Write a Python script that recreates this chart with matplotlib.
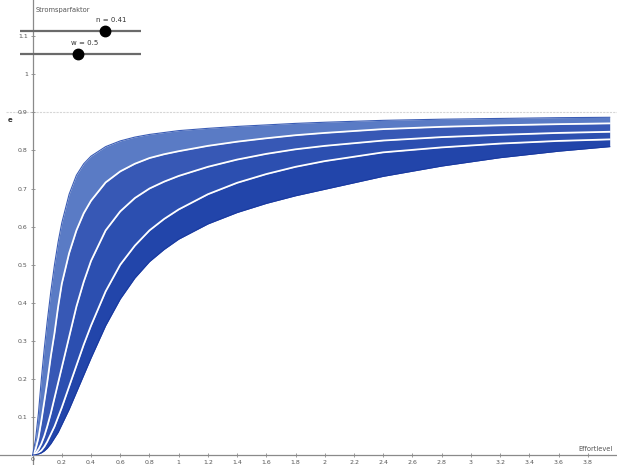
import matplotlib.pyplot as plt
import numpy as np

# effort level (x) and the five edge curves of the curve family
effort = [0, 0.02, 0.04, 0.06, 0.08, 0.1, 0.125, 0.15, 0.175, 0.2, 0.25, 0.3,
          0.35, 0.4, 0.5, 0.6, 0.7, 0.8, 0.9, 1.0, 1.2, 1.4, 1.6, 1.8, 2.0,
          2.4, 2.8, 3.2, 3.6, 3.95]
top = [0, 0.04, 0.11, 0.2, 0.28, 0.35, 0.43, 0.5, 0.56, 0.61, 0.685, 0.735,
       0.765, 0.785, 0.81, 0.825, 0.835, 0.842, 0.847, 0.852, 0.858, 0.863,
       0.867, 0.871, 0.874, 0.879, 0.882, 0.884, 0.886, 0.887]
gap1 = [0, 0.015, 0.045, 0.09, 0.14, 0.19, 0.26, 0.32, 0.39, 0.45, 0.53, 0.59,
        0.635, 0.668, 0.716, 0.745, 0.765, 0.78, 0.79, 0.798, 0.812, 0.823,
        0.832, 0.84, 0.846, 0.856, 0.862, 0.866, 0.869, 0.871]
gap2 = [0, 0.005, 0.015, 0.03, 0.05, 0.075, 0.11, 0.15, 0.19, 0.23, 0.31, 0.39,
        0.455, 0.51, 0.59, 0.64, 0.675, 0.7, 0.718, 0.733, 0.757, 0.776,
        0.791, 0.803, 0.812, 0.826, 0.835, 0.841, 0.846, 0.849]
gap3 = [0, 0.002, 0.006, 0.012, 0.022, 0.035, 0.055, 0.075, 0.1, 0.125, 0.18,
        0.235, 0.29, 0.34, 0.43, 0.5, 0.55, 0.59, 0.62, 0.645, 0.685, 0.715,
        0.738, 0.757, 0.772, 0.795, 0.808, 0.818, 0.825, 0.829]
bottom = [0, 0.001, 0.003, 0.006, 0.011, 0.018, 0.03, 0.045, 0.06, 0.08, 0.12,
          0.165, 0.21, 0.255, 0.34, 0.41, 0.465, 0.508, 0.54, 0.567, 0.607,
          0.637, 0.661, 0.681, 0.698, 0.732, 0.759, 0.781, 0.798, 0.81]

x_ticks = [0.2, 0.4, 0.6, 0.8, 1, 1.2, 1.4, 1.6, 1.8, 2, 2.2, 2.4, 2.6, 2.8,
           3, 3.2, 3.4, 3.6, 3.8]
y_ticks = [0.1, 0.2, 0.3, 0.4, 0.5, 0.6, 0.7, 0.8, 0.9, 1, 1.1]

n_val = 0.41
w_val = 0.5

fig = plt.figure(figsize=(6.17, 4.65), dpi=100)
ax = fig.add_axes([0, 0, 1, 1])
ax.set_xlim(-0.223, 4.0)
ax.set_ylim(-0.026, 1.195)

for s in ['top', 'right']:
    ax.spines[s].set_visible(False)
ax.spines['left'].set_position(('data', 0))
ax.spines['bottom'].set_position(('data', 0))
for s in ['left', 'bottom']:
    ax.spines[s].set_color('#8a8a8a')
    ax.spines[s].set_linewidth(0.9)

ax.set_xticks(x_ticks)
ax.set_xticklabels([('%g' % t) for t in x_ticks])
ax.set_yticks(y_ticks)
ax.set_yticklabels([('%g' % t) for t in y_ticks])
ax.tick_params(direction='inout', length=3, width=0.6, colors='#8a8a8a',
               labelsize=4.5, labelcolor='#555555', pad=2)

# dotted line at 0.9
ax.axhline(0.9, xmin=0.01, color='#d6d6d6', lw=0.8, ls=(0, (2, 1)), zorder=0)

# curve groups
groups = [(top, gap1, '#5a7bc5'), (gap1, gap2, '#3758b5'),
          (gap2, gap3, '#2c4fb0'), (gap3, bottom, '#2245aa')]
for hi, lo, c in groups:
    ax.fill_between(effort, lo, hi, color=c, lw=0, zorder=2)
for cv in [gap1, gap2, gap3]:
    ax.plot(effort, cv, color='white', lw=1.3, zorder=3)
ax.plot(effort, top, color='#3a5cb5', lw=0.8, zorder=3)
ax.plot(effort, bottom, color='#1a3aa0', lw=0.8, zorder=3)

ax.text(0, -0.005, '0', fontsize=4.5, color='#555555', ha='center', va='top')

# overlay in pixel coordinates for labels and sliders
ov = fig.add_axes([0, 0, 1, 1])
ov.set_xlim(0, 617)
ov.set_ylim(465, 0)
ov.axis('off')
ov.patch.set_alpha(0)

ov.text(36, 10, 'Stromsparfaktor', fontsize=4.8, color='#555555', va='center')
ov.text(578, 449, 'Effortlevel', fontsize=4.8, color='#555555', va='center')
ov.text(10, 120, 'e', fontsize=5, color='#333333', ha='center', va='center',
        fontweight='bold')

sliders = [('n = ', n_val, 0, 0.585, 31), ('w = ', w_val, 0, 1.04, 54)]
for name, val, vmin, vmax, py in sliders:
    x0, x1 = 20, 141
    px = x0 + (val - vmin) / (vmax - vmin) * (x1 - x0)
    ov.plot([x0, x1], [py, py], color='#6a6a6a', lw=1.6, solid_capstyle='butt')
    ov.plot(px, py, 'o', ms=7.5, color='black')
    ov.text(px + 6, py - 11, name + ('%g' % val), fontsize=5, color='#333333',
            ha='center', va='center')

fig.savefig('out.png', dpi=100)
